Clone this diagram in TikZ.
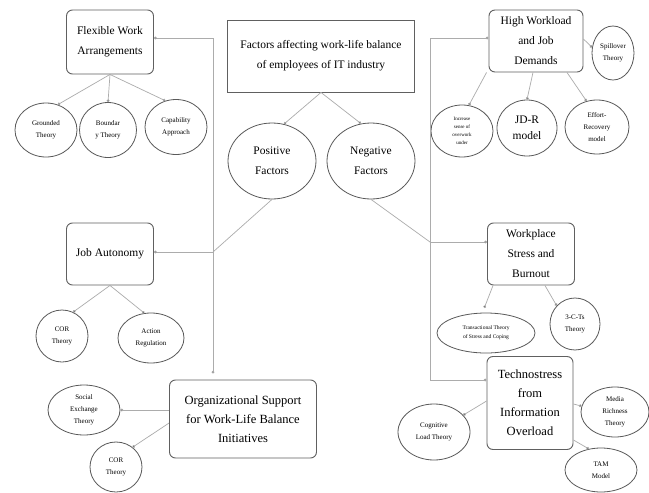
\documentclass[tikz,border=0pt]{standalone}
\usepackage{fontspec}
\setmainfont{Liberation Serif}
\usetikzlibrary{shapes.geometric,arrows.meta}
\tikzset{
  boxnode/.style={draw=gray!75!black, rounded corners=6pt, line width=0.9pt, align=center, inner sep=1pt},
  topnode/.style={draw=gray!75!black, line width=0.9pt, align=center, inner sep=1pt},
  ellnode/.style={draw=gray!70!black, ellipse, line width=0.8pt, align=center, inner sep=0pt},
  conn/.style={draw=gray!65, line width=0.7pt, -{Circle[length=2.8pt, fill=black!85]}},
  plainline/.style={draw=gray!65, line width=0.7pt},
  bigtext/.style={font=\rmfamily\fontsize{11.5}{20}\selectfont},
  midtext/.style={font=\rmfamily\fontsize{12.5}{19}\selectfont},
  smalltext/.style={font=\rmfamily\fontsize{7}{12}\selectfont},
  tinytext/.style={font=\rmfamily\fontsize{5}{8}\selectfont}
}
\begin{document}
\begin{tikzpicture}[x=1pt,y=-1pt]
\useasboundingbox[fill=white] (0,0) rectangle (649,493);

% central
\node[topnode, bigtext, minimum width=187pt, minimum height=72pt] (top) at (321,56) {Factors affecting work-life balance\\of employees of IT industry};
\node[ellnode, bigtext, minimum width=88pt, minimum height=76pt] (pos) at (272,161) {Positive\\Factors};
\node[ellnode, bigtext, minimum width=88pt, minimum height=76pt] (neg) at (371,161) {Negative\\Factors};

% left column
\node[boxnode, bigtext, minimum width=87pt, minimum height=64pt] (fw) at (110,42) {Flexible Work\\Arrangements};
\node[ellnode, smalltext, minimum width=62pt, minimum height=54pt] (gt) at (46,130) {Grounded\\Theory};
\node[ellnode, smalltext, minimum width=57pt, minimum height=55pt] (bt) at (108,130) {Boundar\\y Theory};
\node[ellnode, smalltext, minimum width=62pt, minimum height=55pt] (ca) at (176,127) {Capability\\Approach};

\node[boxnode, bigtext, minimum width=87pt, minimum height=62pt] (ja) at (110,254) {Job Autonomy};
\node[ellnode, smalltext, minimum width=52pt, minimum height=52pt] (cor) at (62,336) {COR\\Theory};
\node[ellnode, smalltext, minimum width=66pt, minimum height=50pt] (ar) at (151,338) {Action\\Regulation};

\node[boxnode, midtext, minimum width=147pt, minimum height=78pt] (org) at (243,419) {Organizational Support\\for Work-Life Balance\\Initiatives};
\node[ellnode, smalltext, minimum width=72pt, minimum height=50pt] (sx) at (84,410) {Social\\Exchange\\Theory};
\node[ellnode, smalltext, minimum width=52pt, minimum height=50pt] (cor2) at (116,467) {COR\\Theory};

% right column
\node[boxnode, bigtext, minimum width=94pt, minimum height=62pt] (hw) at (536,41) {High Workload\\and Job\\Demands};
\node[ellnode, smalltext, minimum width=42pt, minimum height=54pt] (sp) at (613,53) {Spillover\\Theory};
\node[ellnode, tinytext, minimum width=62pt, minimum height=52pt] (inc) at (462,131) {Increase\\sense of\\overwork\\under};
\node[ellnode, font=\rmfamily\fontsize{11.5}{16}\selectfont, minimum width=60pt, minimum height=56pt] (jdr) at (527,128) {JD-R\\model};
\node[ellnode, smalltext, minimum width=64pt, minimum height=54pt] (er) at (597,127) {Effort-\\Recovery\\model};

\node[boxnode, bigtext, minimum width=87pt, minimum height=62pt] (ws) at (531,254) {Workplace\\Stress and\\Burnout};
\node[ellnode, font=\rmfamily\fontsize{5.5}{9}\selectfont, minimum width=98pt, minimum height=40pt] (tr) at (486,333) {Transactional Theory\\of Stress and Coping};
\node[ellnode, smalltext, minimum width=50pt, minimum height=52pt] (tc) at (575,324) {3-C-Ts\\Theory};

\node[boxnode, midtext, minimum width=86pt, minimum height=93pt] (tech) at (530,403) {Technostress\\from\\Information\\Overload};
\node[ellnode, smalltext, minimum width=72pt, minimum height=56pt] (cl) at (434,432) {Cognitive\\Load Theory};
\node[ellnode, smalltext, minimum width=68pt, minimum height=50pt] (mr) at (615,412) {Media\\Richness\\Theory};
\node[ellnode, smalltext, minimum width=72pt, minimum height=44pt] (tam) at (601,470) {TAM\\Model};

% junctions
\coordinate (jL1) at (213,38);
\coordinate (jL2) at (213,252);
\coordinate (jR1) at (430,38);
\coordinate (jR2) at (430,242);
\coordinate (jR3) at (430,380);

% central connectors
\draw[conn] (top.south) -- (pos.72);
\draw[conn] (top.south) -- (neg.105);

% left spine
\draw[plainline] (jL1) -- (jL2);
\draw[conn, shorten >=6pt] (jL2) -- (jL1 |- org.north);
\draw[conn] (jL1) -- (fw.east |- jL1);
\draw[plainline] (pos.south) -- (jL2);
\draw[conn] (jL2) -- (ja.east |- jL2);

% right spine
\draw[plainline] (jR1) -- (jR3);
\draw[conn] (jR1) -- (hw.west |- jR1);
\draw[plainline] (neg.south) -- (jR2);
\draw[conn] (jR2) -- (ws.west |- jR2);
\draw[conn] (jR3) -- (tech.west |- jR3);

% flexible work children
\draw[conn] (fw.south) -- (gt.65);
\draw[conn] (fw.south) -- (bt.north);
\draw[conn] (fw.south) -- (ca.112);

% job autonomy children
\draw[conn] (ja.south) -- (cor.65);
\draw[conn] (ja.south) -- (ar.105);

% organizational support children
\draw[conn] (org.west |- sx.east) -- (sx.east);
\draw[conn] ([yshift=-4]org.west) -- (cor2.50);

% high workload children
\draw[conn] ([xshift=-2]hw.south west) -- (inc.75);
\draw[conn] ([xshift=-3]hw.south) -- (jdr.north);
\draw[conn] ([xshift=31]hw.south) -- (er.112);
\draw[conn] ([yshift=2]hw.east) -- (sp.165);

% workplace children
\draw[conn, shorten >=5pt] ([xshift=6]ws.south west) -- (tr.100);
\draw[conn] ([xshift=-30]ws.south east) -- (tc.135);

% technostress children
\draw[conn] ([yshift=2]tech.west) -- (cl.30);
\draw[conn] ([yshift=-1]tech.east) -- (mr.170);
\draw[conn] ([yshift=-37]tech.east) -- (tam.120);
\end{tikzpicture}
\end{document}
